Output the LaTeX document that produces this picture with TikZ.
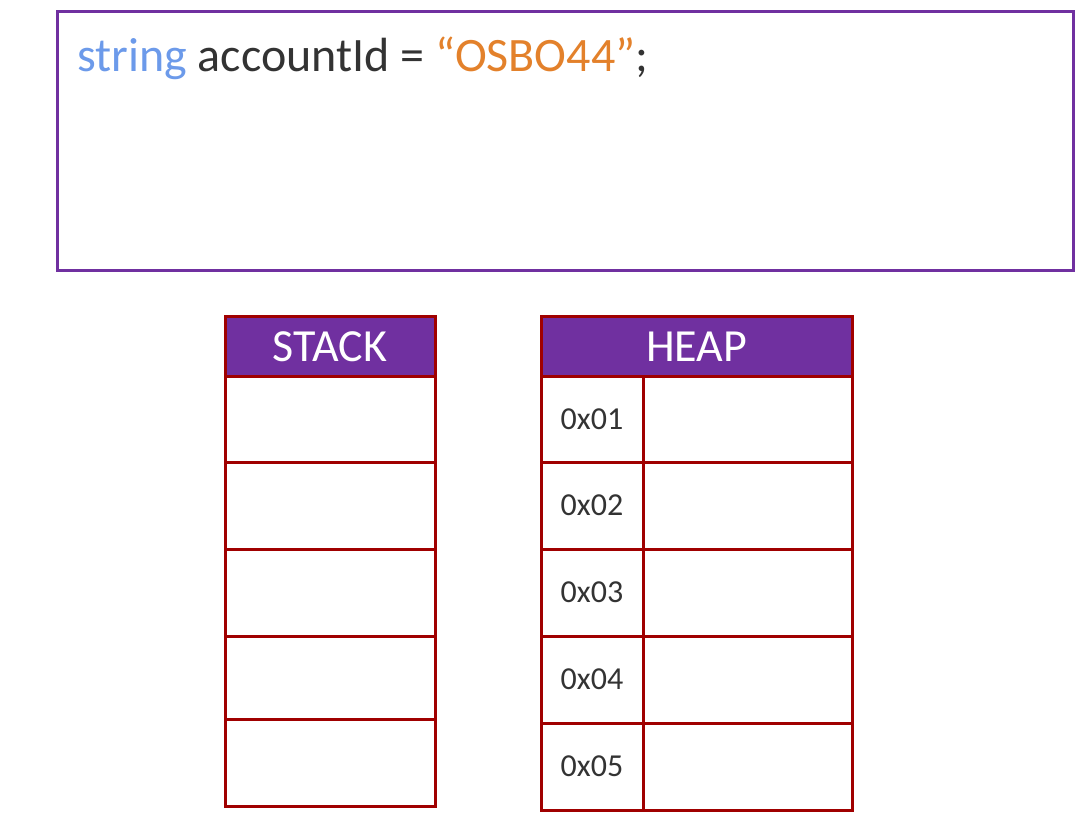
\documentclass[tikz,border=0pt]{standalone}
\usepackage{fontspec}
\setmainfont{Carlito}
\definecolor{pur}{HTML}{7030A0}
\definecolor{dred}{HTML}{A00000}
\definecolor{kw}{HTML}{6C9AEA}
\definecolor{strc}{HTML}{E3812B}
\definecolor{txt}{HTML}{333333}
\begin{document}
\begin{tikzpicture}[x=1pt,y=-1pt,
  cell/.style={draw=dred, line width=3pt, rectangle, inner sep=0pt, outer sep=0pt, anchor=north west, fill=white},
  head/.style={cell, fill=pur, text=white, font=\fontsize{46}{55}\selectfont},
  addr/.style={text=txt, font=\fontsize{32}{38}\selectfont, inner sep=0pt}]
\useasboundingbox (0,0) rectangle (1082,828);
% code box
\node[draw=pur, line width=3pt, rectangle, inner sep=0pt, anchor=north west, minimum width=1016pt, minimum height=259pt] (code) at (56,10) {};
\node[anchor=base west, inner sep=0pt, font=\fontsize{48}{58}\selectfont] (line) at (77,71)
  {\textcolor{kw}{string} \textcolor{txt}{accountId =} \textcolor{strc}{“OSBO44”}\textcolor{txt}{;}};
% stack
\node[head, minimum width=210pt, minimum height=60pt] (sh) at (225,316) {};
\node[text=white, font=\fontsize{46}{55}\selectfont, inner sep=0pt] (shl) at (330,347) {STACK};
\node[cell, minimum width=210pt, minimum height=86pt] (s1) at (225,376) {};
\node[cell, minimum width=210pt, minimum height=87pt] (s2) at (225,462) {};
\node[cell, minimum width=210pt, minimum height=87pt] (s3) at (225,549) {};
\node[cell, minimum width=210pt, minimum height=83pt] (s4) at (225,636) {};
\node[cell, minimum width=210pt, minimum height=87pt] (s5) at (225,719) {};
% heap
\node[head, minimum width=311pt, minimum height=60pt] (hh) at (541,316) {};
\node[text=white, font=\fontsize{46}{55}\selectfont, inner sep=0pt] (hhl) at (696.5,347) {HEAP};
\foreach \i/\y/\h in {1/376/86, 2/462/87, 3/549/87, 4/636/87, 5/723/87} {
  \node[cell, minimum width=102pt, minimum height=\h pt] (a\i) at (541,\y) {};
  \node[cell, minimum width=209pt, minimum height=\h pt] (v\i) at (643,\y) {};
  \node[addr] (l\i) at (a\i.center) {0x0\i};
}
\end{tikzpicture}
\end{document}
